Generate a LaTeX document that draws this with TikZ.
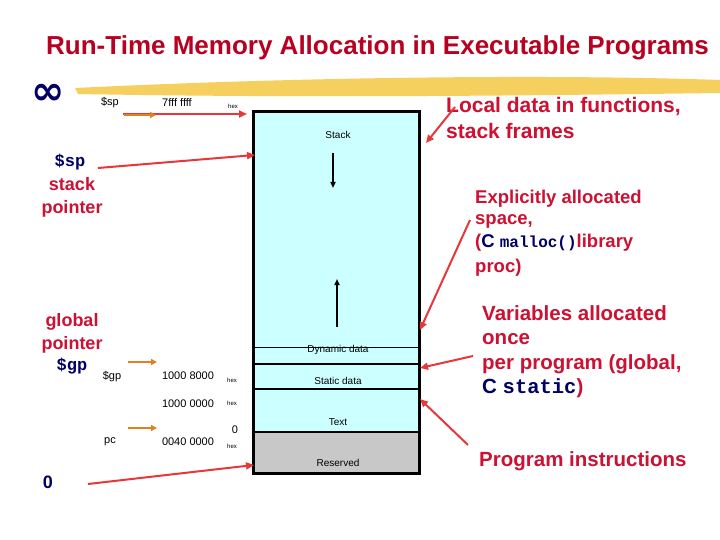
\documentclass[tikz,border=0pt]{standalone}
\usepackage{fontspec}
\setmainfont{Liberation Sans}
\setmonofont{Liberation Mono}
\newfontfamily\dvs{DejaVu Sans}
\usetikzlibrary{arrows.meta}
\definecolor{rt}{HTML}{CC1133}
\definecolor{tt}{HTML}{B80020}
\definecolor{nv}{HTML}{000066}
\definecolor{cy}{HTML}{CCFFFF}
\definecolor{gr}{HTML}{C8C8C8}
\definecolor{ar}{HTML}{E8373A}
\definecolor{og}{HTML}{E08020}
\definecolor{yl}{HTML}{F5C842}
\begin{document}
\begin{tikzpicture}[x=1pt,y=-1pt,
  sm/.style={font=\fontsize{11}{12}\selectfont,inner sep=0},
  hx/.style={font=\fontsize{6}{7}\selectfont,inner sep=0},
  lbl/.style={font=\fontsize{20}{20}\selectfont\bfseries,text=rt,inner sep=0,anchor=west},
  inbox/.style={font=\fontsize{10}{11}\selectfont,inner sep=0},
  rarr/.style={ar,line width=2pt,-{Triangle[length=8pt,width=7pt]}},
  oarr/.style={og,line width=2.5pt,-{Triangle[length=6pt,width=6pt]}}]
\useasboundingbox (0,0) rectangle (720,540);
\fill[white] (0,0) rectangle (720,540);
% title
\node[anchor=west,inner sep=0,text=tt,font=\fontsize{26}{26}\selectfont\bfseries] (title) at (46,48) {Run-Time Memory Allocation in Executable Programs};
\fill[yl,opacity=0.85] (75,88) .. controls (300,77) and (550,74) .. (720,80) -- (720,93) .. controls (500,96) and (300,98) .. (78,94) -- cycle;
% memory box
\fill[cy] (253,112) rectangle (419,432);
\fill[gr] (253,432) rectangle (419,473);
\draw[line width=1pt] (253,347) -- (419,347);
\draw[line width=2pt] (253,364) -- (419,364);
\draw[line width=1.5pt] (253,389) -- (419,389);
\draw[line width=2.5pt] (253,432) -- (419,432);
\draw[line width=3pt] (253,112) rectangle (419,473);
\node[inbox] (stk) at (338,135) {Stack};
\node[inbox] (dyn) at (338,350) {Dynamic data};
\node[inbox] (sta) at (338,381) {Static data};
\node[inbox] (txt) at (338,422) {Text};
\node[inbox] (res) at (338,463) {Reserved};
\coordinate (d1) at (333,153); \coordinate (d2) at (333,188);
\draw[line width=1.5pt,-{Triangle[length=6pt,width=5pt]}] (d1) -- (d2);
\coordinate (u1) at (337,327); \coordinate (u2) at (337,279);
\draw[line width=1.5pt,-{Triangle[length=6pt,width=5pt]}] (u1) -- (u2);
% left labels
\node[inner sep=0,text=nv,font=\dvs\fontsize{40}{40}\selectfont\bfseries] (inf) at (48,94) {∞};
\node[sm] (sp1) at (110,103) {\$sp};
\node[sm] (a1) at (177,103) {7fff ffff};
\node[hx] (h1) at (233,106) {hex};
\node[inner sep=0,text=nv,font=\ttfamily\fontsize{17}{17}\selectfont\bfseries] (sp2) at (70,162) {\$sp};
\node[inner sep=0,text=rt,font=\fontsize{18}{23}\selectfont\bfseries,align=center] (spl) at (72,197) {stack\\pointer};
\node[inner sep=0,text=rt,font=\fontsize{18}{23}\selectfont\bfseries,align=center] (gpl) at (72,333) {global\\pointer};
\node[inner sep=0,text=nv,font=\ttfamily\fontsize{17}{17}\selectfont\bfseries] (gp2) at (72,366) {\$gp};
\node[sm] (gp1) at (112,377) {\$gp};
\node[sm] (a2) at (188,376) {1000 8000};
\node[hx] (h2) at (232,380) {hex};
\node[sm] (a3) at (188,404) {1000 0000};
\node[hx] (h3) at (232,403) {hex};
\node[sm] (z0) at (235,430) {0};
\node[sm] (pc) at (110,442) {pc};
\node[sm] (a4) at (188,442) {0040 0000};
\node[hx] (h4) at (232,446) {hex};
\node[inner sep=0,text=nv,font=\fontsize{18}{18}\selectfont\bfseries] (zero) at (48,482) {0};
% right labels
\node[lbl,font=\fontsize{21}{21}\selectfont\bfseries] (loc) at (446,107) {Local data in functions,};
\node[lbl,font=\fontsize{21}{21}\selectfont\bfseries] (loc2) at (446,131) {stack frames};
\node[lbl,font=\fontsize{18.5}{18.5}\selectfont\bfseries] (ex1) at (475,199) {Explicitly allocated};
\node[lbl,font=\fontsize{18.5}{18.5}\selectfont\bfseries] (ex2) at (475,221) {space,};
\node[lbl,font=\fontsize{18.5}{18.5}\selectfont\bfseries] (ex3) at (475,243) {(\textcolor{nv}{C \texttt{\fontsize{16}{16}\selectfont malloc()}}library};
\node[lbl,font=\fontsize{18.5}{18.5}\selectfont\bfseries] (ex4) at (475,268) {proc)};
\node[lbl,font=\fontsize{20.5}{20.5}\selectfont\bfseries] (v1) at (482,313) {Variables allocated};
\node[lbl,font=\fontsize{20.5}{20.5}\selectfont\bfseries] (v2) at (482,339) {once};
\node[lbl,font=\fontsize{20.5}{20.5}\selectfont\bfseries] (v3) at (482,364) {per program (global,};
\node[lbl,font=\fontsize{20.5}{20.5}\selectfont\bfseries] (v4) at (482,388) {\textcolor{nv}{C \texttt{static}})};
\node[lbl,font=\fontsize{20.5}{20.5}\selectfont\bfseries] (pi) at (479,461) {Program instructions};
% arrows
\coordinate (s1) at (123,114); \coordinate (s2) at (247,114);
\draw[rarr] (s1) -- (s2);
\coordinate (o0) at (124,115); \coordinate (o1) at (156,115);
\draw[oarr] (o0) -- (o1);
\coordinate (p1) at (98,168); \coordinate (p2) at (255,155);
\draw[rarr] (p1) -- (p2);
\coordinate (l1) at (455,107); \coordinate (l2) at (426,143);
\draw[rarr] (l1) -- (l2);
\coordinate (e1) at (470,220); \coordinate (e2) at (420,330);
\draw[rarr] (e1) -- (e2);
\coordinate (w1) at (473,356); \coordinate (w2) at (420,368);
\draw[rarr] (w1) -- (w2);
\coordinate (q1) at (468,445); \coordinate (q2) at (420,399);
\draw[rarr] (q1) -- (q2);
\coordinate (n1) at (88,484); \coordinate (n2) at (254,465);
\draw[rarr] (n1) -- (n2);
\coordinate (g1) at (128,362); \coordinate (g2) at (157,362);
\draw[oarr] (g1) -- (g2);
\coordinate (c1) at (128,428); \coordinate (c2) at (157,428);
\draw[oarr] (c1) -- (c2);
\end{tikzpicture}
\end{document}
